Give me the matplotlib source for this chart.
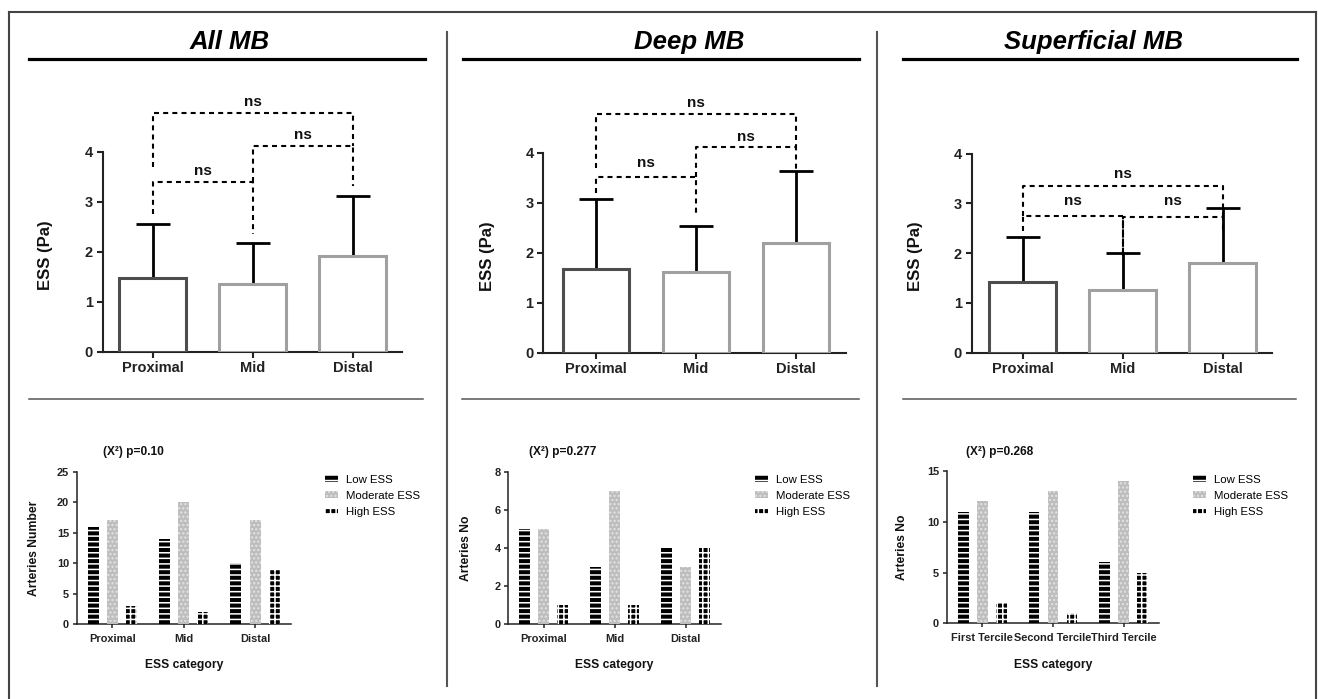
import matplotlib
matplotlib.use('Agg')
import matplotlib.pyplot as plt
from matplotlib.patches import Patch
from matplotlib.lines import Line2D
import numpy as np

plt.rcParams['font.family'] = ['Liberation Sans', 'DejaVu Sans']
plt.rcParams['hatch.linewidth'] = 1.1

# ---------------- data ----------------
panel_titles = ['All MB', 'Deep MB', 'Superficial MB']
segments = ['Proximal', 'Mid', 'Distal']

all_mean = [1.48, 1.36, 1.91]
all_upper = [2.55, 2.18, 3.12]
deep_mean = [1.67, 1.62, 2.19]
deep_upper = [3.07, 2.54, 3.63]
sup_mean = [1.41, 1.26, 1.80]
sup_upper = [2.33, 2.01, 2.90]
sig_text = 'ns'
ess_ylabel = 'ESS (Pa)'

ess_classes = ['Low ESS', 'Moderate ESS', 'High ESS']
count_groups_seg = ['Proximal', 'Mid', 'Distal']
count_groups_terc = ['First Tercile', 'Second Tercile', 'Third Tercile']
all_low = [16, 14, 10]
all_mod = [17, 20, 17]
all_high = [3, 2, 9]
deep_low = [5, 3, 4]
deep_mod = [5, 7, 3]
deep_high = [1, 1, 4]
sup_low = [11, 11, 6]
sup_mod = [12, 13, 14]
sup_high = [2, 1, 5]
p_texts = ['(X²) p=0.10', '(X²) p=0.277', '(X²) p=0.268']
count_ylabels = ['Arteries Number', 'Arteries No', 'Arteries No']
count_xlabel = 'ESS category'
count_yticks = [[0, 5, 10, 15, 20, 25], [0, 2, 4, 6, 8], [0, 5, 10, 15]]

# ---------------- layout (pixels) ----------------
W, H = 1318, 699
fig = plt.figure(figsize=(W / 100, H / 100), dpi=100)


def fx(x):
    return x / W


def fy(y):
    return 1 - y / H


def fline(xs, ys, **kw):
    fig.add_artist(Line2D([fx(v) for v in xs], [fy(v) for v in ys],
                          transform=fig.transFigure, **kw))


# outer border
fline([8.7, 8.7], [11.7, 702], color='#444444', lw=1.5)
fline([8.7, 1315.7], [11.7, 11.7], color='#444444', lw=1.5)
fline([1315.7, 1315.7], [11.7, 702], color='#444444', lw=1.5)

# separators
for xs in [446.7, 876.7]:
    fline([xs, xs], [31.7, 686], color='#555555', lw=1.5)

# titles + underlines
title_geo = [(29, 425, 230), (462.7, 859, 688.7), (903, 1296.7, 1094)]
for (x0, x1, xc), t in zip(title_geo, panel_titles):
    fig.text(fx(xc), fy(42), t, ha='center', va='center', fontsize=18.5,
             fontweight='bold', fontstyle='italic', color='black')
    fline([x0, x1], [58.5, 58.5], color='black', lw=2.3)

mid_lines = [(29, 423.3), (461.7, 859), (903, 1296)]
for x0, x1 in mid_lines:
    fline([x0, x1], [398.5, 398.5], color='#555555', lw=1.1)

# ---------------- top panels ----------------
top_geo = [(102.7, 401.7, 351.7, 50.0, 152.7),
           (543.3, 846.0, 352.7, 50.0, 596.0),
           (971.7, 1271.7, 352.7, 49.8, 1022.7)]
top_means = [all_mean, deep_mean, sup_mean]
top_uppers = [all_upper, deep_upper, sup_upper]
ylabel_x = [-0.165, -0.16, -0.161]
# brackets: (i, j, height, low_i, low_j, text_y)
brackets = [
    [(0, 1, 3.40, 2.75, 2.35, 3.62), (1, 2, 4.12, 3.40, 3.32, 4.33), (0, 2, 4.78, 3.70, 4.12, 5.00)],
    [(0, 1, 3.52, 3.19, 2.75, 3.79), (1, 2, 4.12, 3.52, 3.63, 4.32), (0, 2, 4.77, 3.69, 4.12, 5.00)],
    [(0, 1, 2.75, 2.45, 1.95, 3.05), (1, 2, 2.72, 1.95, 2.40, 3.05), (0, 2, 3.35, 2.75, 2.75, 3.58)],
]
edge_cols = ['#4d4d4d', '#a0a0a0', '#a0a0a0']
ytop = 5.3

for k in range(3):
    left, right, y0, ppu, c0 = top_geo[k]
    hgt = ytop * ppu
    ax = fig.add_axes([fx(left), fy(y0), (right - left) / W, hgt / H])
    x = np.arange(3)
    means = np.array(top_means[k])
    ups = np.array(top_uppers[k])
    ax.bar(x, means, width=0.667, color='white', edgecolor=edge_cols,
           linewidth=2.2, zorder=3)
    eb = ax.errorbar(x, means, yerr=[np.zeros(3), ups - means], fmt='none',
                     ecolor='black', elinewidth=2.0, capsize=12.5, capthick=2.0,
                     zorder=2)
    eb[1][0].set_visible(False)
    for (i, j, hb, li, lj, ty) in brackets[k]:
        ax.plot([i, i, j, j], [li, hb, hb, lj], color='black', lw=1.5,
                linestyle=(0, (2.4, 2.0)), zorder=4, solid_capstyle='butt')
        ax.text((i + j) / 2, ty, sig_text, ha='center', va='center',
                fontsize=11, fontweight='bold', color='#111111')
    xl0 = (left - c0) / 100.0
    xl1 = (right - c0) / 100.0
    ax.set_xlim(xl0, xl1)
    ax.set_ylim(0, ytop)
    ax.set_yticks([0, 1, 2, 3, 4])
    ax.set_xticks(x)
    ax.set_xticklabels(segments)
    for s in ['top', 'right']:
        ax.spines[s].set_visible(False)
    ax.spines['left'].set_bounds(0, 4)
    for s in ['left', 'bottom']:
        ax.spines[s].set_linewidth(1.5)
        ax.spines[s].set_color('#222222')
    ax.tick_params(axis='both', direction='out', length=4, width=1.5,
                   colors='#222222', labelsize=10.5, pad=3)
    for lab in ax.get_xticklabels() + ax.get_yticklabels():
        lab.set_fontweight('bold')
    ax.set_ylabel(ess_ylabel, fontsize=12, fontweight='bold', color='#111111')
    ax.yaxis.set_label_coords(ylabel_x[k], 1.93 / ytop)
    ax.patch.set_visible(False)

# ---------------- bottom panels ----------------
bot_geo = [(76.7, 290.7, 624.0, 471.7), (508.3, 721.0, 624.0, 471.7),
           (946.7, 1159.3, 623.3, 471.0)]
bot_low = [all_low, deep_low, sup_low]
bot_mod = [all_mod, deep_mod, sup_mod]
bot_high = [all_high, deep_high, sup_high]
bot_groups = [count_groups_seg, count_groups_seg, count_groups_terc]
bot_ylabel_x = [-0.171, -0.172, -0.182]
p_text_x = [133, 562.7, 1000]
legend_x = [325, 755, 1193.3]

styles = [
    dict(facecolor='black', edgecolor='white', hatch='---'),
    dict(facecolor='#bdbdbd', edgecolor='#e2e2e2', hatch='....'),
    dict(facecolor='black', edgecolor='white', hatch='+++'),
]

for k in range(3):
    left, right, y0, ytp = bot_geo[k]
    ax = fig.add_axes([fx(left), fy(y0), (right - left) / W, (y0 - ytp) / H])
    x = np.arange(3)
    series = [bot_low[k], bot_mod[k], bot_high[k]]
    off = 0.268
    for s_i, vals in enumerate(series):
        ax.bar(x + (s_i - 1) * off, vals, width=0.155, linewidth=0,
               zorder=3, **styles[s_i])
    ymax = count_yticks[k][-1]
    ax.set_ylim(0, ymax)
    ax.set_xlim(-0.5, 2.5)
    ax.set_yticks(count_yticks[k])
    ax.set_xticks(x)
    ax.set_xticklabels(bot_groups[k])
    for s in ['top', 'right']:
        ax.spines[s].set_visible(False)
    for s in ['left', 'bottom']:
        ax.spines[s].set_linewidth(1.1)
        ax.spines[s].set_color('#222222')
    ax.tick_params(axis='both', direction='out', length=3, width=1.1,
                   colors='#222222', labelsize=7.9, pad=2.5)
    ax.tick_params(axis='x', pad=4)
    for lab in ax.get_xticklabels() + ax.get_yticklabels():
        lab.set_fontweight('bold')
    ax.set_ylabel(count_ylabels[k], fontsize=8.7, fontweight='bold',
                  color='#111111')
    ax.yaxis.set_label_coords(bot_ylabel_x[k], 0.5)
    ax.set_xlabel(count_xlabel, fontsize=8.7, fontweight='bold',
                  color='#111111', va='center')
    ax.xaxis.set_label_coords(0.5, (y0 - 665) / (y0 - ytp))
    ax.patch.set_visible(False)
    fig.text(fx(p_text_x[k]), fy(451.7), p_texts[k], ha='center', va='center',
             fontsize=8.6, fontweight='bold', color='#111111')
    handles = [Patch(linewidth=0, **st) for st in styles]
    ax.legend(handles, ess_classes, loc='upper left',
              bbox_to_anchor=(fx(legend_x[k]), fy(474.5)),
              bbox_transform=fig.transFigure, frameon=False, borderpad=0,
              borderaxespad=0, handlelength=1.15, handleheight=0.5,
              handletextpad=0.7, labelspacing=0.55, fontsize=8.2)

fig.savefig('out.png', dpi=100)
